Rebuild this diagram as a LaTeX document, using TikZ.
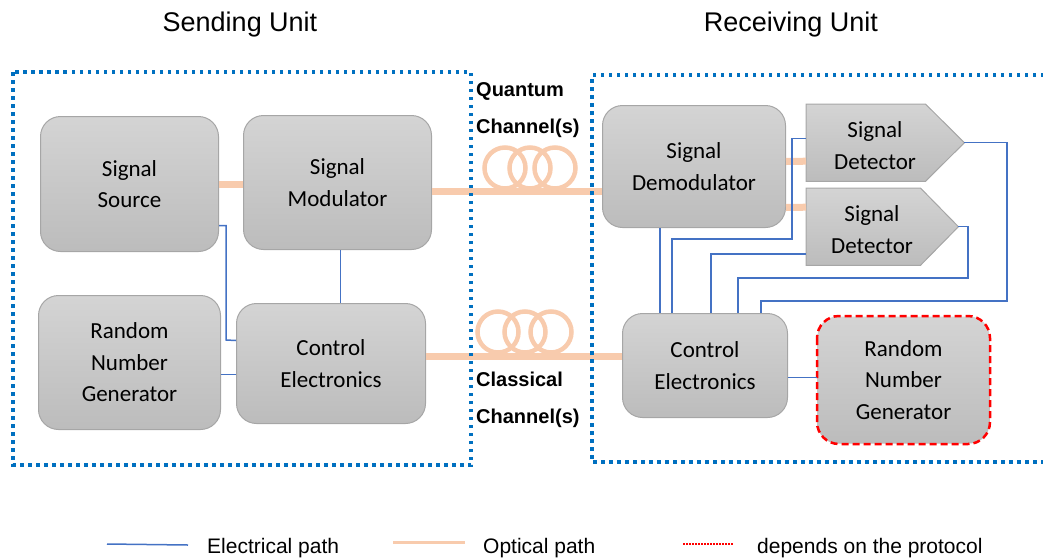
\documentclass[tikz,border=0pt]{standalone}
\usepackage{fontspec}
\setmainfont{Liberation Sans}
\newfontfamily\carl{Carlito}
\usetikzlibrary{calc}
\definecolor{boxtop}{HTML}{D4D4D4}
\definecolor{boxbot}{HTML}{BCBCBC}
\definecolor{boxedge}{HTML}{A6A6A6}
\definecolor{elecblue}{HTML}{4472C4}
\definecolor{optorange}{HTML}{F8CBAD}
\definecolor{frameblue}{HTML}{0070C0}
\definecolor{protred}{HTML}{FF0000}
\begin{document}
\begin{tikzpicture}[x=1pt,y=-1pt,
  unitbox/.style={draw=boxedge, line width=1pt, rounded corners=20pt, top color=boxtop, bottom color=boxbot,
    align=center, inner sep=0pt, anchor=north west, font=\carl\fontsize{23}{31.5}\selectfont},
  detshape/.style={draw=boxedge, line width=1pt, top color=boxtop, bottom color=boxbot},
  dettext/.style={align=center, inner sep=0pt, font=\carl\fontsize{23}{31.5}\selectfont},
  elec/.style={draw=elecblue, line width=1.5pt},
  opt/.style={draw=optorange, line width=7pt},
  coil/.style={draw=optorange, line width=4.5pt},
  unitframe/.style={draw=frameblue, line width=3.5pt, dash pattern=on 3.5pt off 4.5pt},
  protocol/.style={draw=protred, line width=2.5pt, dash pattern=on 7pt off 4pt},
  chlabel/.style={font=\bfseries\fontsize{20}{24}\selectfont, anchor=base west, inner sep=0pt},
  title/.style={font=\fontsize{27}{32}\selectfont, anchor=base, inner sep=0pt},
  legtext/.style={font=\fontsize{21}{25}\selectfont, anchor=base west, inner sep=0pt}
]
\useasboundingbox (0,0) rectangle (1043,557);

% titles
\node[title] (t1) at (240,31) {Sending Unit};
\node[title] (t2) at (791,31) {Receiving Unit};

% sending unit boxes
\node[unitbox, minimum width=178pt, minimum height=135pt] (src) at (40,116) {Signal\\Source};
\node[unitbox, minimum width=188pt, minimum height=134pt] (mod) at (243,115) {Signal\\Modulator};
\node[unitbox, minimum width=182pt, minimum height=134pt] (rngL) at (38,295) {Random\\Number\\Generator};
\node[unitbox, minimum width=189pt, minimum height=120pt] (ctrlL) at (236,303) {Control\\Electronics};

% receiving unit boxes
\node[unitbox, minimum width=183pt, minimum height=122pt] (demod) at (602,105) {Signal\\Demodulator};
\node[unitbox, minimum width=165pt, minimum height=104pt] (ctrlR) at (622,313) {Control\\Electronics};
\node[unitbox, minimum width=172pt, minimum height=127pt, draw=none] (rngR) at (817,316) {Random\\Number\\Generator};
\draw[protocol, rounded corners=22pt] (rngR.north west) rectangle (rngR.south east);

% detectors
\node[draw=none, inner sep=0pt, anchor=north west, minimum width=158pt, minimum height=77pt] (det1) at (806,104) {};
\path[detshape] (det1.north west) -- ([xshift=-39pt]det1.north east) -- (det1.east) -- ([xshift=-39pt]det1.south east) -- (det1.south west) -- cycle;
\node[dettext] (det1t) at (875,145.5) {Signal\\Detector};
\node[draw=none, inner sep=0pt, anchor=north west, minimum width=152pt, minimum height=77pt] (det2) at (806,188) {};
\path[detshape] (det2.north west) -- ([xshift=-38pt]det2.north east) -- (det2.east) -- ([xshift=-38pt]det2.south east) -- (det2.south west) -- cycle;
\node[dettext] (det2t) at (872,229.5) {Signal\\Detector};

% optical paths
\draw[opt] (src.east) -- (src.east -| mod.west);
\draw[opt] ([yshift=-9pt]mod.east) -- ([yshift=-25pt]demod.west);
\draw[opt] ([yshift=7pt]ctrlL.east) -- ([yshift=9pt]ctrlR.west);
\draw[opt] ([yshift=5pt]demod.east) -- ([yshift=-18.5pt]det1.west);
\draw[opt] ([yshift=-41pt]demod.east) -- ([yshift=19.5pt]det2.west);

% fibre coils
\foreach \cx in {505,530,555} \draw[coil] (\cx,168) circle (20.5);
\foreach \cx in {498,525,551} \draw[coil] (\cx,332) circle (20.5);

% electrical paths, sending unit
\draw[elec] ([yshift=-41.5pt]src.east) -| (226,340) -- ([yshift=23pt]ctrlL.west);
\draw[elec] ([yshift=-12pt]rngL.east) -- ([yshift=-11pt]ctrlL.west);
\draw[elec] ([xshift=3pt]mod.south) -- ([xshift=9.5pt]ctrlL.north);

% electrical paths, receiving unit
\draw[elec] ([xshift=58pt]demod.south west) -- ([xshift=38pt]ctrlR.north west);
\draw[elec] ([xshift=50pt]ctrlR.north west) |- (792,239) |- ([yshift=4pt]det1.west);
\draw[elec] ([xshift=89pt]ctrlR.north west) |- ([yshift=-27.5pt]det2.west);
\draw[elec] (det2.east) -| (968,278) -| ([xshift=116pt]ctrlR.north west);
\draw[elec] (det1.east) -| (1007,301) -| ([xshift=139pt]ctrlR.north west);
\draw[elec] ([yshift=-12pt]ctrlR.east) -- ([yshift=2.5pt]rngR.west);

% unit frames
\draw[unitframe] (13,72) rectangle (471,465);
\draw[unitframe] (1060,75) -- (592,75) -- (592,462) -- (1060,462);

% channel labels
\node[chlabel] (q1) at (476,96) {Quantum};
\node[chlabel] (q2) at (476,133) {Channel(s)};
\node[chlabel] (c1) at (476,386) {Classical};
\node[chlabel] (c2) at (476,423) {Channel(s)};

% legend
\coordinate (le1) at (107,544);
\coordinate (le2) at (188,545);
\draw[elec] (le1) -- (le2);
\node[legtext] (l1) at (207,553) {Electrical path};
\coordinate (lo1) at (393,542);
\coordinate (lo2) at (465,542);
\draw[draw=optorange, line width=3pt] (lo1) -- (lo2);
\node[legtext] (l2) at (483,553) {Optical path};
\coordinate (lr1) at (683,544);
\coordinate (lr2) at (733,544);
\draw[draw=protred, line width=1.2pt, dash pattern=on 2pt off 1pt] (lr1) -- (lr2);
\node[legtext] (l3) at (757,553) {depends on the protocol};
\end{tikzpicture}
\end{document}
